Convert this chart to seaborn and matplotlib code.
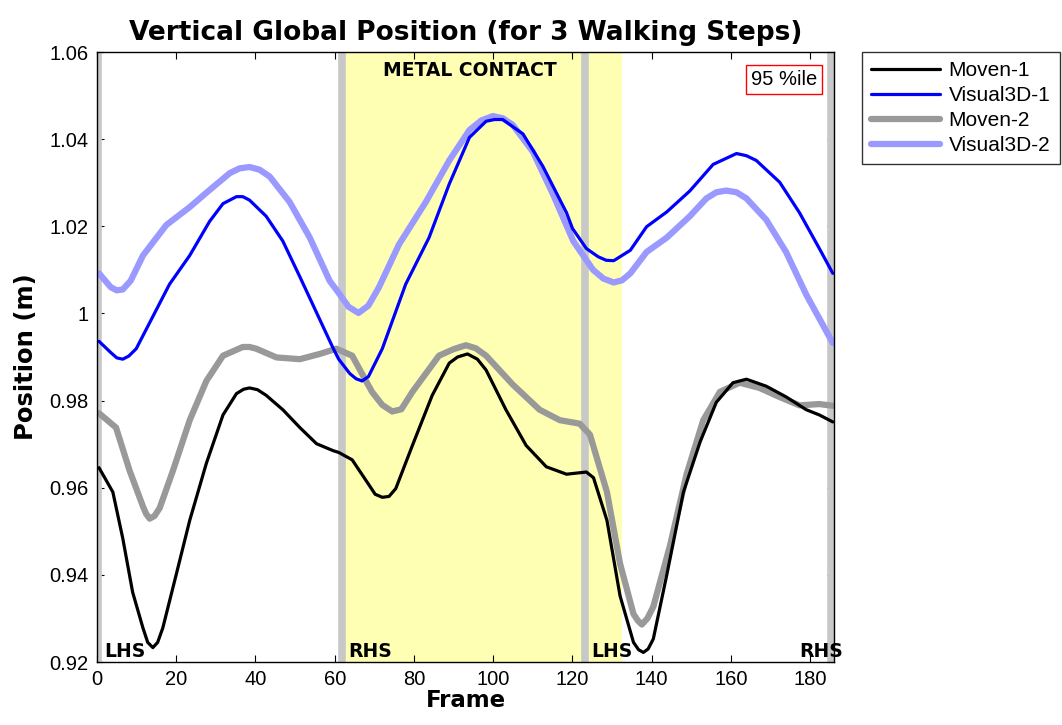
import numpy as np
import pandas as pd
import matplotlib
matplotlib.use("Agg")
import matplotlib.pyplot as plt
import seaborn as sns
from matplotlib.ticker import FuncFormatter

# ---------------- data ----------------
moven1_frames = [0.5, 4, 6.5, 9, 11.6, 12.8, 14.1, 15.3, 16.6, 20, 23.4, 27.6, 31.8, 35.2, 37,
                 38.5, 40.5, 42.7, 46.9, 51.2, 55.4, 59.6, 61, 64.4, 68.6, 70.2, 72, 73.7, 75.4,
                 79.6, 84.6, 88.9, 91, 93.5, 96, 98.2, 103.2, 108.3, 113.4, 118.5, 123.5, 125.3,
                 128.7, 132, 135.4, 136.7, 137.9, 139.1, 140.4, 143.8, 148, 152.2, 156.3, 160.5,
                 163.9, 168.9, 174, 179, 182.3, 185.7]
moven1_vals = [0.9646, 0.959, 0.9484, 0.936, 0.9278, 0.9245, 0.9233, 0.9245, 0.9278, 0.9401,
               0.9525, 0.9656, 0.9767, 0.9816, 0.9826, 0.9829, 0.9825, 0.9812, 0.9779, 0.9738,
               0.9701, 0.9685, 0.9681, 0.9664, 0.9607, 0.9585, 0.9578, 0.958, 0.9598, 0.9697,
               0.9812, 0.9886, 0.99, 0.9907, 0.9895, 0.987, 0.9779, 0.9697, 0.9648, 0.9631,
               0.9636, 0.9623, 0.9525, 0.9352, 0.9245, 0.9228, 0.9222, 0.923, 0.9253, 0.94,
               0.959, 0.9705, 0.9796, 0.9841, 0.9849, 0.9833, 0.9808, 0.9779, 0.9767, 0.9751]

visual1_frames = [0.5, 3.5, 5, 6.5, 8, 9.9, 14.1, 18.3, 23.4, 28.4, 31.8, 35.2, 36.8, 38.5,
                  42.7, 46.9, 51.2, 55.4, 59.6, 61, 63.8, 65.4, 66.9, 68.5, 72, 77.9, 83.8, 88.9,
                  94, 98.2, 100.3, 102.4, 107.5, 112.5, 118.5, 120, 123.5, 126.5, 128.5, 130.4,
                  134.6, 138.7, 143.8, 149.6, 155.5, 161.4, 163.9, 166.4, 172.3, 177.3, 182.3,
                  185.7]
visual1_vals = [0.9936, 0.991, 0.9898, 0.9895, 0.9902, 0.9919, 0.9993, 1.0067, 1.0133, 1.0211,
                1.0252, 1.0268, 1.0268, 1.026, 1.0223, 1.0166, 1.0084, 1.0002, 0.992, 0.9895,
                0.9862, 0.985, 0.9845, 0.9855, 0.9919, 1.0067, 1.0174, 1.0297, 1.0404, 1.0441,
                1.0445, 1.0445, 1.0412, 1.0338, 1.0231, 1.0195, 1.0149, 1.013, 1.0122, 1.0121,
                1.0145, 1.0199, 1.0233, 1.0281, 1.0342, 1.0367, 1.0362, 1.0351, 1.0301, 1.0231,
                1.0149, 1.0092]

moven2_frames = [0.5, 4.8, 8.2, 11.6, 12.4, 13.3, 14.5, 15.8, 19.2, 23.4, 27.6, 31.8, 36.8,
                 38.5, 40.2, 45.3, 51.2, 56.2, 60.4, 64.4, 69.4, 72, 74.5, 76.8, 79.6, 86.3, 90,
                 93.1, 95.6, 98.2, 104.9, 111.7, 116.8, 121.8, 124.4, 128.7, 132, 135.4, 136.5,
                 137.5, 138.9, 140.4, 144.6, 148.8, 153, 157.2, 162.2, 167.2, 172.3, 177.3,
                 182.3, 185.7]
moven2_vals = [0.9771, 0.9738, 0.964, 0.9557, 0.954, 0.9529, 0.9535, 0.9553, 0.964, 0.9755,
               0.9845, 0.9903, 0.9923, 0.9923, 0.9919, 0.9899, 0.9895, 0.9907, 0.9919, 0.9903,
               0.982, 0.979, 0.9775, 0.978, 0.982, 0.9903, 0.9918, 0.9927, 0.992, 0.9903,
               0.9837, 0.9779, 0.9755, 0.9747, 0.9722, 0.959, 0.9426, 0.931, 0.9295, 0.9286,
               0.93, 0.9327, 0.9467, 0.9631, 0.9755, 0.982, 0.9841, 0.9829, 0.9808, 0.9789,
               0.9792, 0.9788]

visual2_frames = [0.5, 3.5, 5, 6.5, 8.5, 11.6, 17.5, 23.4, 27.6, 33.5, 36, 38.5, 41, 43.6, 48.6,
                  53.7, 58.7, 61, 63.5, 66, 68.5, 71.1, 76.2, 83, 88.9, 94, 97, 99.9, 102.4,
                  104.9, 110, 115.1, 120.2, 125.2, 127.8, 130.4, 132.5, 134.6, 138.7, 143.8,
                  149.6, 153.8, 156.3, 158.8, 161.4, 163.9, 168.9, 173.9, 179, 185.7]
visual2_vals = [1.0092, 1.006, 1.0053, 1.0055, 1.0075, 1.0133, 1.0203, 1.0244, 1.0277, 1.0322,
                1.0333, 1.0336, 1.033, 1.0314, 1.0256, 1.0174, 1.0075, 1.0047, 1.0015, 1.0001,
                1.0018, 1.0059, 1.0158, 1.0256, 1.0351, 1.0421, 1.0443, 1.0453, 1.0448, 1.0433,
                1.0371, 1.0273, 1.0166, 1.01, 1.008, 1.0071, 1.0076, 1.0092, 1.0141, 1.0174,
                1.0223, 1.0264, 1.0278, 1.0282, 1.0278, 1.0264, 1.0215, 1.0141, 1.0043, 0.9932]

series_names = ["Moven-1", "Visual3D-1", "Moven-2", "Visual3D-2"]
event_frames = [0.25, 61.9, 123.1, 185.3]
event_labels = ["LHS", "RHS", "LHS", "RHS"]
contact_start, contact_end = 61.9, 132.5
xticks = [0, 20, 40, 60, 80, 100, 120, 140, 160, 180]
yticks = [0.92, 0.94, 0.96, 0.98, 1.00, 1.02, 1.04, 1.06]

# ---------------- styling ----------------
sns.set_style("white")
plt.rcParams["font.family"] = ["Liberation Sans", "DejaVu Sans"]
plt.rcParams.update({"text.color": "black", "axes.labelcolor": "black",
                     "xtick.color": "black", "ytick.color": "black"})
BOLD = ["DejaVu Sans"]

fig = plt.figure(figsize=(10.62, 7.25), dpi=100)
ax = fig.add_axes([97 / 1062, 1 - 662 / 725, (834 - 97) / 1062, (662 - 52) / 725])

# background regions
ax.axvspan(contact_start, contact_end, color="#FFFFB4", zorder=0, lw=0)
for f in event_frames:
    ax.axvline(f, color="#C8C8C8", lw=5.5, zorder=1)

series = [
    (series_names[2], moven2_frames, moven2_vals, "#999999", 4.5, 2),
    (series_names[3], visual2_frames, visual2_vals, "#9999FF", 4.5, 3),
    (series_names[0], moven1_frames, moven1_vals, "#000000", 2.3, 4),
    (series_names[1], visual1_frames, visual1_vals, "#0000FF", 2.3, 5),
]
for name, fr, vals, col, lw, z in series:
    df = pd.DataFrame({"Frame": fr, "Position": vals})
    sns.lineplot(data=df, x="Frame", y="Position", ax=ax, color=col, linewidth=lw,
                 zorder=z, label=name, estimator=None, sort=True)

ax.set_xlim(0, 186)
ax.set_ylim(0.92, 1.06)
ax.set_xticks(xticks)
ax.set_yticks(yticks)
ax.yaxis.set_major_formatter(FuncFormatter(lambda v, p: f"{round(v, 4):g}"))
ax.tick_params(direction="in", length=5, width=0.8, top=True, right=True, bottom=True,
               left=True, labelsize=14.5, colors="black", pad=6)
for s in ax.spines.values():
    s.set_color("black")
    s.set_linewidth(1.0)
    s.set_zorder(10)

ax.set_xlabel("Frame", fontsize=16.5, fontweight="bold", family=BOLD, labelpad=0)
ax.set_ylabel("Position (m)", fontsize=17.5, fontweight="bold", family=BOLD, labelpad=8)
ax.set_title("Vertical Global Position (for 3 Walking Steps)", fontsize=19,
             fontweight="bold", family=BOLD, pad=9)

# annotations
ax.text(94.2, 1.0557, "METAL CONTACT", ha="center", va="center", fontsize=13.5,
        fontweight="bold", family=BOLD, zorder=6)
ax.text(173.4, 1.0537, "95 %ile", ha="center", va="center", fontsize=14.5, zorder=6,
        bbox=dict(boxstyle="square,pad=0.25", fc="white", ec="red", lw=1))
for f, lab in zip(event_frames, event_labels):
    ax.text(f + 1.6 if f < 180 else f - 8, 0.9212, lab, ha="left", va="baseline",
            fontsize=13.5, fontweight="bold", family=BOLD, zorder=7, clip_on=False)

# legend
h, l = ax.get_legend_handles_labels()
order = [l.index(n) for n in series_names]
leg = fig.legend([h[i] for i in order], [l[i] for i in order], loc="upper left",
                 bbox_to_anchor=(862 / 1062, 1 - 52 / 725), fontsize=15,
                 frameon=True, fancybox=False, edgecolor="black", handlelength=3.3,
                 borderpad=0.45, labelspacing=0.28, handletextpad=0.4, borderaxespad=0)
leg.get_frame().set_linewidth(1.0)
ax.get_legend().remove()

fig.savefig("out.png", dpi=100)
